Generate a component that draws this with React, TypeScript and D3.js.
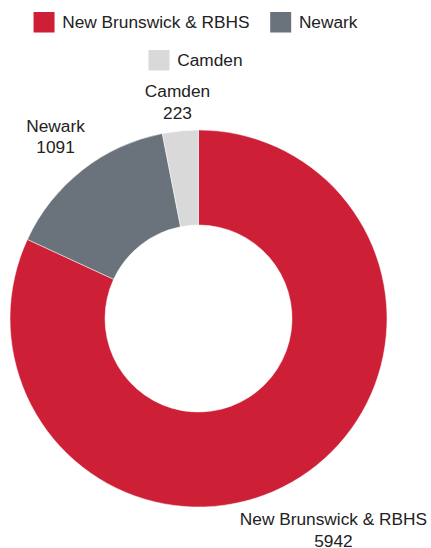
import React, { useMemo } from "react";
import * as d3 from "d3";

const categories = ["New Brunswick & RBHS", "Newark", "Camden"];
const values = [5942, 1091, 223];
const colors = ["#cd2037", "#6a737b", "#d9d9d9"];

const W = 431;
const H = 548;
const FONT = "Liberation Sans, Arial, sans-serif";
const FS = 17.3;
const cx = 198.5;
const cy = 318.5;
const outerR = 188.5;
const innerR = 93.5;
const labelRadius = [250.5, 231.5, 218];
const lineH = 21.6;

function measure(text: string): number {
  const c = document.createElement("canvas");
  const ctx = c.getContext("2d");
  if (!ctx) return text.length * FS * 0.55;
  ctx.font = `${FS}px ${FONT}`;
  return ctx.measureText(text).width;
}

export default function App() {
  const pie = d3.pie<number>().sort(null).value((v) => v);
  const arcs = pie(values);
  const arc = d3.arc<d3.PieArcDatum<number>>().innerRadius(innerR).outerRadius(outerR);

  const legend = useMemo(() => {
    const box = 21;
    const gapText = 7.7;
    const gapItem = 20.7;
    const maxW = 400;
    const rows: { i: number; w: number }[][] = [[]];
    let rowW = 0;
    categories.forEach((c, i) => {
      const w = box + gapText + measure(c);
      const add = rows[rows.length - 1].length ? gapItem + w : w;
      if (rowW + add > maxW && rows[rows.length - 1].length) {
        rows.push([{ i, w }]);
        rowW = w;
      } else {
        rows[rows.length - 1].push({ i, w });
        rowW += add;
      }
    });
    const center = 195.5;
    const items: { i: number; x: number; y: number }[] = [];
    rows.forEach((row, r) => {
      const total = row.reduce((s, it) => s + it.w, 0) + gapItem * (row.length - 1);
      let x = center - total / 2;
      row.forEach((it) => {
        items.push({ i: it.i, x, y: 12 + r * 38 });
        x += it.w + gapItem;
      });
    });
    return { items, box, gapText };
  }, []);

  return (
    <svg
      width={W}
      height={H}
      style={{ position: "absolute", left: 0, top: 0, background: "#fff" }}
      fontFamily={FONT}
      fontSize={FS}
    >
      {legend.items.map(({ i, x, y }) => (
        <g key={categories[i]}>
          <rect x={x} y={y} width={legend.box} height={20.5} fill={colors[i]} />
          <text x={x + legend.box + legend.gapText} y={y + 15.7} fill="#222">
            {categories[i]}
          </text>
        </g>
      ))}
      <g transform={`translate(${cx},${cy})`}>
        {arcs.map((a, i) => (
          <path key={categories[i]} d={arc(a) || ""} fill={colors[i]} stroke="#fff" strokeWidth={0.5} />
        ))}
        {arcs.map((a, i) => {
          const la = d3.arc<d3.PieArcDatum<number>>().innerRadius(labelRadius[i]).outerRadius(labelRadius[i]);
          const [lx, ly] = la.centroid(a);
          const first = ly - lineH / 2 + 6.2;
          return (
            <text key={"l" + categories[i]} textAnchor="middle" fill="#222">
              <tspan x={lx} y={first}>{categories[i]}</tspan>
              <tspan x={lx} y={first + lineH}>{values[i]}</tspan>
            </text>
          );
        })}
      </g>
    </svg>
  );
}
